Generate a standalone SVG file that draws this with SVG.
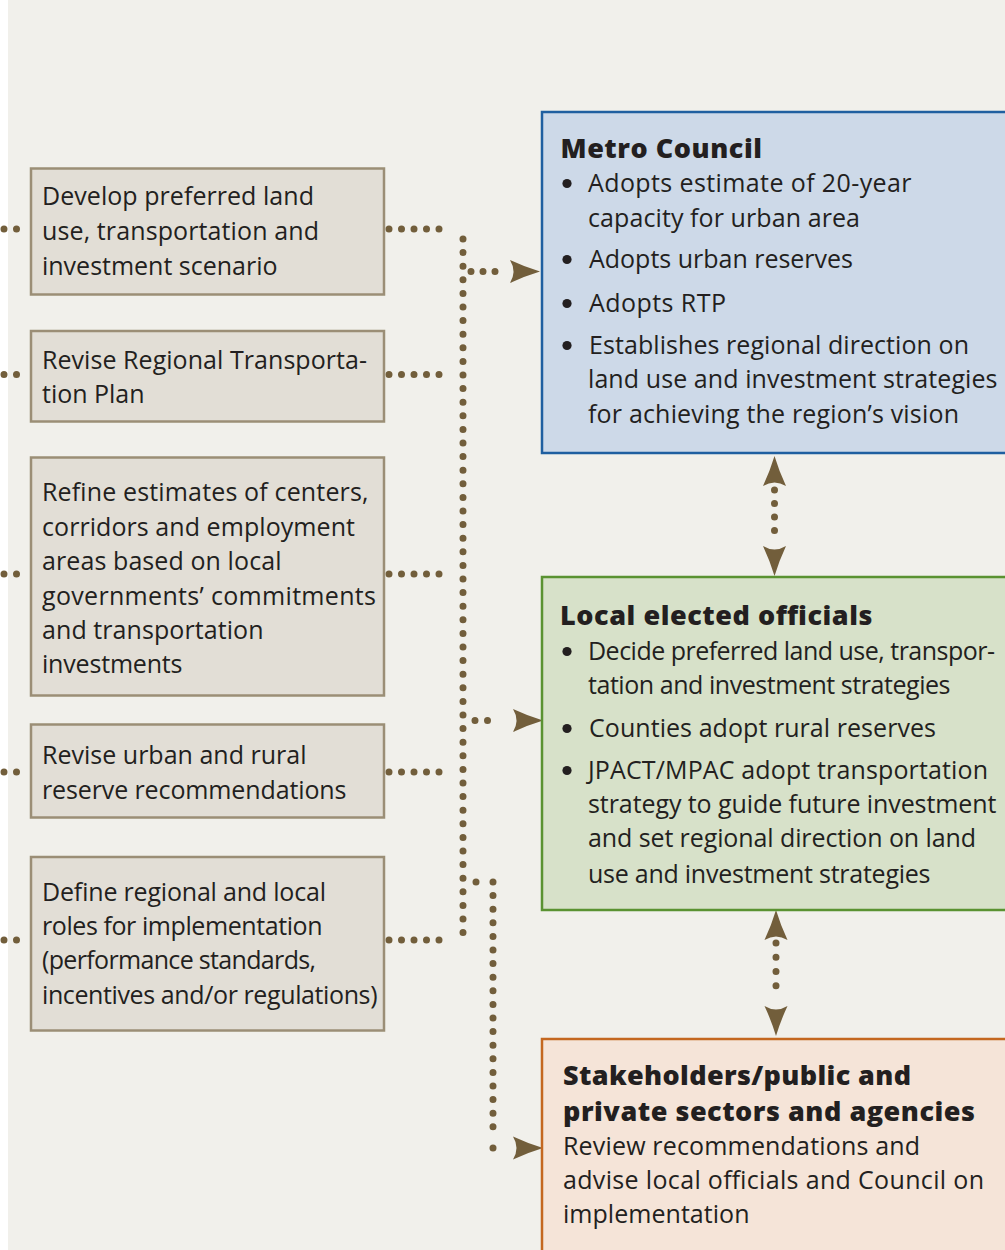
<svg xmlns="http://www.w3.org/2000/svg" xmlns:xlink="http://www.w3.org/1999/xlink" width="1005" height="1250" viewBox="0 0 1005 1250">
<style>
.t{font-family:"Open Sans","Noto Sans","Liberation Sans",sans-serif;font-size:25px;font-weight:400;fill:#231f20}
.b{font-family:"Open Sans","Noto Sans","Liberation Sans",sans-serif;font-size:27px;font-weight:800;fill:#231f20}
.step{fill:#e2ded6;stroke:#9b8e76;stroke-width:2.5}
.dot{fill:none;stroke:#725e3b;stroke-width:7;stroke-linecap:round}
.h{stroke-dasharray:0 12.5}
.v{stroke-dasharray:0 13.6}
.ah{fill:#725e3b}
.bul{fill:#231f20}
</style>
<defs>
<path id="ah" d="M0,0 Q-15,-4.5 -30,-11.5 Q-23,0 -30,11.5 Q-15,4.5 0,0Z"/>
</defs>
<rect x="0" y="0" width="1005" height="1250" fill="#ffffff"/>
<rect x="8" y="0" width="997" height="1250" fill="#f1f0eb"/>

<g id="connectors">
<path class="dot h" d="M4,229 H29 M4,374.5 H29 M4,574 H29 M4,772 H29 M4,940 H29"/>
<path class="dot h" d="M389,229 H451 M389,374.5 H451 M389,574 H451 M389,772 H451 M389,940 H451"/>
<path class="dot v" d="M463,239 V936"/>
<path class="dot" stroke-dasharray="0 12" d="M471,271.5 H507"/>
<path class="dot" stroke-dasharray="0 12.5" d="M475,720.5 H500"/>
<path class="dot" d="M476,882 h0.01"/>
<path class="dot v" d="M493,882 V1132"/>
<path class="dot" stroke-dasharray="0 16" d="M493,1148 H509"/>
<use xlink:href="#ah" class="ah" transform="translate(540,271.5)"/>
<use xlink:href="#ah" class="ah" transform="translate(543,720.5)"/>
<use xlink:href="#ah" class="ah" transform="translate(543,1148)"/>
<path class="dot" stroke-dasharray="0 13.5" d="M774.5,490 V544"/>
<use xlink:href="#ah" class="ah" transform="translate(774.5,456) rotate(-90)"/>
<use xlink:href="#ah" class="ah" transform="translate(774.5,576) rotate(90)"/>
<path class="dot" stroke-dasharray="0 14.25" d="M776,943 V1000"/>
<use xlink:href="#ah" class="ah" transform="translate(776,910) rotate(-90)"/>
<use xlink:href="#ah" class="ah" transform="translate(776,1036) rotate(90)"/>
</g>

<g id="step1">
<rect class="step" x="31" y="168.5" width="353" height="126"/>
<text class="t" x="42" y="205" textLength="272">Develop preferred land</text>
<text class="t" x="42" y="240" textLength="277">use, transportation and</text>
<text class="t" x="42" y="275" textLength="235.5">investment scenario</text>
</g>
<g id="step2">
<rect class="step" x="31" y="331" width="353" height="90.5"/>
<text class="t" x="42" y="369" textLength="325">Revise Regional Transporta-</text>
<text class="t" x="42" y="403" textLength="102.5">tion Plan</text>
</g>
<g id="step3">
<rect class="step" x="31" y="457.5" width="353" height="238"/>
<text class="t" x="42" y="501" textLength="326.5">Refine estimates of centers,</text>
<text class="t" x="42" y="536" textLength="313">corridors and employment</text>
<text class="t" x="42" y="570" textLength="239.5">areas based on local</text>
<text class="t" x="42" y="605" textLength="334">governments’ commitments</text>
<text class="t" x="42" y="639" textLength="221.5">and transportation</text>
<text class="t" x="42" y="673" textLength="140.5">investments</text>
</g>
<g id="step4">
<rect class="step" x="31" y="724.5" width="353" height="93"/>
<text class="t" x="42" y="764" textLength="264.5">Revise urban and rural</text>
<text class="t" x="42" y="799" textLength="304.5">reserve recommendations</text>
</g>
<g id="step5">
<rect class="step" x="31" y="857" width="353" height="173.5"/>
<text class="t" x="42" y="901" textLength="284">Define regional and local</text>
<text class="t" x="42" y="935" textLength="280.5">roles for implementation</text>
<text class="t" x="42" y="969" textLength="274">(performance standards,</text>
<text class="t" x="42" y="1004" textLength="335.5">incentives and/or regulations)</text>
</g>

<g id="metro-council">
<rect x="542" y="112" width="480" height="341" fill="#cdd9e8" stroke="#1f5fa0" stroke-width="2.5"/>
<text class="b" x="560.5" y="158" textLength="201.5">Metro Council</text>
<circle class="bul" cx="567" cy="183.5" r="4.6"/>
<text class="t" x="588" y="192" textLength="323.5">Adopts estimate of 20-year</text>
<text class="t" x="588" y="226.5" textLength="272">capacity for urban area</text>
<circle class="bul" cx="567" cy="259.5" r="4.6"/>
<text class="t" x="589" y="268" textLength="264">Adopts urban reserves</text>
<circle class="bul" cx="567" cy="303.5" r="4.6"/>
<text class="t" x="589" y="312" textLength="137">Adopts RTP</text>
<circle class="bul" cx="567" cy="345.5" r="4.6"/>
<text class="t" x="589" y="354" textLength="380">Establishes regional direction on</text>
<text class="t" x="588" y="388" textLength="409.5">land use and investment strategies</text>
<text class="t" x="588" y="422.5" textLength="371">for achieving the region’s vision</text>
</g>

<g id="local-officials">
<rect x="542" y="577" width="480" height="333" fill="#d7e1c9" stroke="#5a9231" stroke-width="2.5"/>
<text class="b" x="560" y="625" textLength="312.5">Local elected officials</text>
<circle class="bul" cx="567" cy="651.5" r="4.6"/>
<text class="t" x="588" y="660" textLength="407">Decide preferred land use, transpor-</text>
<text class="t" x="588" y="694" textLength="362.5">tation and investment strategies</text>
<circle class="bul" cx="567" cy="728.5" r="4.6"/>
<text class="t" x="589" y="737" textLength="347">Counties adopt rural reserves</text>
<circle class="bul" cx="567" cy="770.5" r="4.6"/>
<text class="t" x="588" y="779" textLength="400">JPACT/MPAC adopt transportation</text>
<text class="t" x="588" y="813" textLength="408.5">strategy to guide future investment</text>
<text class="t" x="588" y="847" textLength="388">and set regional direction on land</text>
<text class="t" x="588" y="882.5" textLength="342.5">use and investment strategies</text>
</g>

<g id="stakeholders">
<rect x="542" y="1039" width="480" height="240" fill="#f5e4d8" stroke="#c4671f" stroke-width="2.5"/>
<text class="b" x="563" y="1085" textLength="348">Stakeholders/public and</text>
<text class="b" x="563" y="1120.5" textLength="412">private sectors and agencies</text>
<text class="t" x="563" y="1155" textLength="357">Review recommendations and</text>
<text class="t" x="563" y="1189" textLength="421">advise local officials and Council on</text>
<text class="t" x="563" y="1223" textLength="186.5">implementation</text>
</g>
</svg>
